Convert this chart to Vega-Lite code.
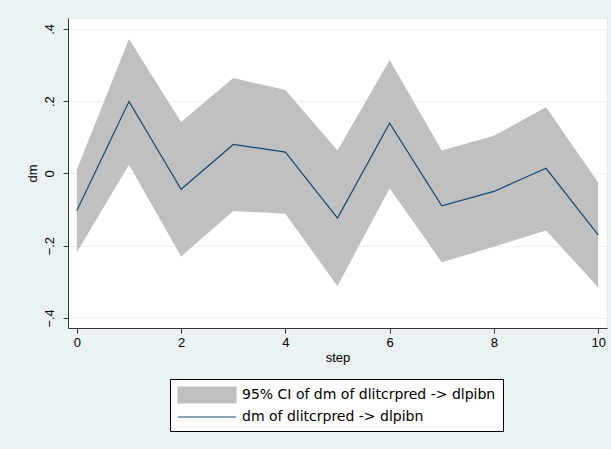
{
  "$schema": "https://vega.github.io/schema/vega-lite/v6.json",
  "autosize": {"type": "none"},
  "padding": {"left": 68, "top": 18, "right": 4, "bottom": 121},
  "width": 539,
  "height": 310,
  "background": "#EAF2F3",
  "config": {
    "font": "Liberation Sans",
    "view": {"fill": "white", "stroke": "#e3ebee", "strokeWidth": 1},
    "axis": {
      "domainColor": "#333333",
      "tickColor": "#333333",
      "labelColor": "#000000",
      "titleColor": "#000000",
      "labelFont": "Liberation Sans",
      "titleFont": "Liberation Sans",
      "labelFontSize": 13,
      "titleFontSize": 13,
      "titleFontWeight": "normal",
      "gridColor": "#EAF2F3",
      "gridWidth": 1,
      "tickSize": 5
    }
  },
  "data": {
    "values": [
      {"step": 0, "irf": -0.103, "lower": -0.218, "upper": 0.010},
      {"step": 1, "irf": 0.199, "lower": 0.024, "upper": 0.372},
      {"step": 2, "irf": -0.044, "lower": -0.230, "upper": 0.142},
      {"step": 3, "irf": 0.080, "lower": -0.104, "upper": 0.264},
      {"step": 4, "irf": 0.059, "lower": -0.112, "upper": 0.231},
      {"step": 5, "irf": -0.124, "lower": -0.312, "upper": 0.063},
      {"step": 6, "irf": 0.139, "lower": -0.041, "upper": 0.314},
      {"step": 7, "irf": -0.090, "lower": -0.246, "upper": 0.063},
      {"step": 8, "irf": -0.050, "lower": -0.203, "upper": 0.104},
      {"step": 9, "irf": 0.014, "lower": -0.158, "upper": 0.183},
      {"step": 10, "irf": -0.170, "lower": -0.315, "upper": -0.025}
    ]
  },
  "encoding": {
    "x": {
      "field": "step",
      "type": "quantitative",
      "title": "step",
      "scale": {"domain": [-0.17, 10.17], "nice": false, "zero": false},
      "axis": {"values": [0, 2, 4, 6, 8, 10], "grid": false, "labelPadding": 3, "titlePadding": 2}
    }
  },
  "layer": [
    {
      "mark": {"type": "area", "opacity": 1},
      "encoding": {
        "y": {
          "field": "lower",
          "type": "quantitative",
          "title": "dm",
          "scale": {"domain": [-0.428, 0.43], "nice": false, "zero": false},
          "axis": {
            "values": [-0.4, -0.2, 0, 0.2, 0.4],
            "grid": true,
            "labelAngle": -90,
            "labelAlign": "center",
            "labelBaseline": "bottom",
            "labelPadding": 7,
            "titlePadding": 4,
            "labelExpr": "datum.value == 0 ? '0' : replace(format(datum.value, '.1f'), '0.', '.')"
          }
        },
        "y2": {"field": "upper"},
        "color": {
          "datum": "95% CI of dm of dlitcrpred -> dlpibn",
          "type": "nominal",
          "scale": {
            "domain": ["95% CI of dm of dlitcrpred -> dlpibn", "dm of dlitcrpred -> dlpibn"],
            "range": ["#c0c0c0", "#1a476f"]
          },
          "legend": {
            "title": null,
            "orient": "none",
            "legendX": 102,
            "legendY": 361,
            "fillColor": "white",
            "strokeColor": "#000000",
            "padding": 7,
            "cornerRadius": 0,
            "labelFont": "DejaVu Sans",
            "labelFontSize": 14,
            "labelColor": "#000000",
            "labelOffset": 47,
            "labelLimit": 400,
            "rowPadding": 2,
            "symbolSize": 256,
            "symbolStrokeWidth": 1.2,
            "symbolOpacity": 1,
            "symbolType": {"expr": "datum.value == '95% CI of dm of dlitcrpred -> dlpibn' ? 'M-1,-1L6.25,-1L6.25,1L-1,1Z' : 'M-1,0L6.25,0'"},
            "symbolFillColor": {"expr": "datum.value == '95% CI of dm of dlitcrpred -> dlpibn' ? '#c0c0c0' : 'transparent'"},
            "symbolStrokeColor": {"expr": "datum.value == '95% CI of dm of dlitcrpred -> dlpibn' ? 'transparent' : '#1a476f'"}
          }
        }
      }
    },
    {
      "mark": {"type": "line", "strokeWidth": 1.2},
      "encoding": {
        "y": {"field": "irf", "type": "quantitative"},
        "color": {"datum": "dm of dlitcrpred -> dlpibn", "type": "nominal"}
      }
    }
  ]
}
